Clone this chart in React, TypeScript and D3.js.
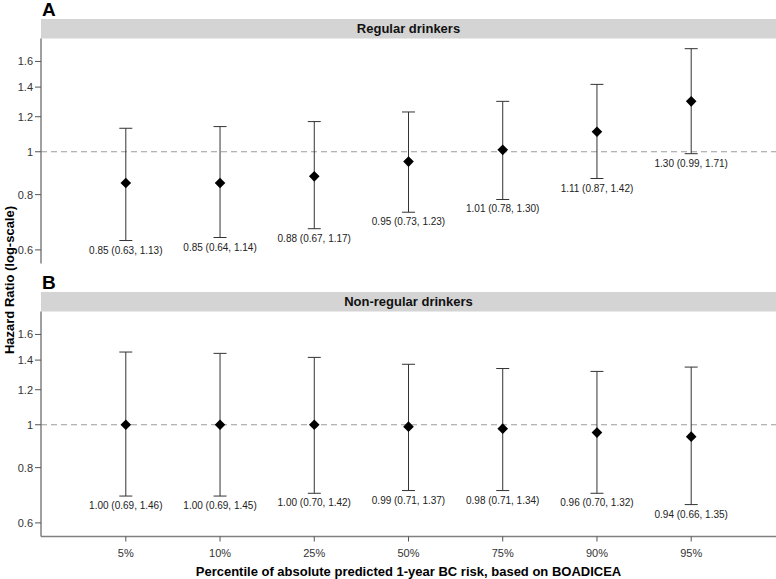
import React from 'react';
import * as d3 from 'd3';

// percentile categories (x axis)
const percentiles = ['5%', '10%', '25%', '50%', '75%', '90%', '95%'];

// panel A: regular drinkers
const regularHR = [0.85, 0.85, 0.88, 0.95, 1.01, 1.11, 1.30];
const regularLo = [0.63, 0.64, 0.67, 0.73, 0.78, 0.87, 0.99];
const regularHi = [1.13, 1.14, 1.17, 1.23, 1.30, 1.42, 1.71];

// panel B: non-regular drinkers
const nonRegularHR = [1.00, 1.00, 1.00, 0.99, 0.98, 0.96, 0.94];
const nonRegularLo = [0.69, 0.69, 0.70, 0.71, 0.71, 0.70, 0.66];
const nonRegularHi = [1.46, 1.45, 1.42, 1.37, 1.34, 1.32, 1.35];

const yTicks = [0.6, 0.8, 1, 1.2, 1.4, 1.6];

const panels = [
  { tag: 'A', title: 'Regular drinkers', hr: regularHR, lo: regularLo, hi: regularHi },
  { tag: 'B', title: 'Non-regular drinkers', hr: nonRegularHR, lo: nonRegularLo, hi: nonRegularHi },
];

const W = 776;
const H = 579;
const FONT = '"Liberation Sans", Arial, Helvetica, sans-serif';

const plotLeft = 41;
const plotRight = 776;
// top of the strip for each panel
const panelTops = [19, 292];
const stripH = 19.5;
const plotH = 225;

const fmt = (v: number) => v.toFixed(2);

function Panel({ p, top, showX }: any) {
  const y0 = top + stripH;
  const x = d3.scaleLinear().domain([-0.9, 6.9]).range([plotLeft, plotRight]);
  const y = d3.scaleLog().domain([0.559, 1.803]).range([y0 + plotH, y0]);
  const diamond = d3.symbol().type(d3.symbolDiamond2).size(72)();

  return (
    <g>
      <text x={plotLeft + 1} y={top - 3} fontSize={19} fontWeight="bold" fill="#000">{p.tag}</text>
      <rect x={plotLeft} y={top} width={plotRight - plotLeft} height={stripH} fill="#d4d4d4" />
      <text x={(plotLeft + plotRight) / 2} y={top + stripH / 2 + 4.5} textAnchor="middle"
        fontSize={13} fontWeight="bold" fill="#111">{p.title}</text>

      {/* reference line at HR = 1 */}
      <line x1={plotLeft} x2={plotRight} y1={y(1)} y2={y(1)} stroke="#9a9a9a" strokeWidth={1}
        strokeDasharray="6,4" />

      {/* y axis */}
      <line x1={plotLeft} x2={plotLeft} y1={y0} y2={y0 + plotH} stroke="#808080" strokeWidth={1.5} />
      {yTicks.map(t => (
        <g key={t}>
          <line x1={plotLeft - 6} x2={plotLeft} y1={y(t)} y2={y(t)} stroke="#555" />
          <text x={plotLeft - 8} y={y(t) + 4} textAnchor="end" fontSize={11} fill="#333">{d3.format('~g')(t)}</text>
        </g>
      ))}

      {/* error bars and point estimates */}
      {p.hr.map((v: number, i: number) => {
        const cx = x(i);
        return (
          <g key={i}>
            <line x1={cx} x2={cx} y1={y(p.hi[i])} y2={y(p.lo[i])} stroke="#333" strokeWidth={1} />
            <line x1={cx - 6.5} x2={cx + 6.5} y1={y(p.hi[i])} y2={y(p.hi[i])} stroke="#333" />
            <line x1={cx - 6.5} x2={cx + 6.5} y1={y(p.lo[i])} y2={y(p.lo[i])} stroke="#333" />
            <path d={diamond as string} transform={`translate(${cx},${y(v)})`} fill="#000" />
            <text x={cx} y={y(p.lo[i]) + 13} textAnchor="middle" fontSize={10} fill="#222">
              {`${fmt(v)} (${fmt(p.lo[i])}, ${fmt(p.hi[i])})`}
            </text>
          </g>
        );
      })}

      {showX && (
        <g>
          <line x1={plotLeft} x2={plotRight} y1={y0 + plotH} y2={y0 + plotH} stroke="#808080" strokeWidth={1.5} />
          {percentiles.map((c, i) => (
            <g key={c}>
              <line x1={x(i)} x2={x(i)} y1={y0 + plotH} y2={y0 + plotH + 5} stroke="#555" />
              <text x={x(i)} y={y0 + plotH + 20} textAnchor="middle" fontSize={11} fill="#333">{c}</text>
            </g>
          ))}
        </g>
      )}
    </g>
  );
}

export default function App() {
  return (
    <svg width={W} height={H} style={{ position: 'absolute', left: 0, top: 0, background: '#fff' }}
      fontFamily={FONT}>
      {panels.map((p, k) => (
        <Panel key={p.tag} p={p} top={panelTops[k]} showX={k === 1} />
      ))}
      <text transform="translate(14,280) rotate(-90)" textAnchor="middle" fontSize={13}
        fontWeight="bold" fill="#000">Hazard Ratio (log-scale)</text>
      <text x={(plotLeft + plotRight) / 2} y={576} textAnchor="middle" fontSize={13}
        fontWeight="bold" fill="#000">Percentile of absolute predicted 1-year BC risk, based on BOADICEA</text>
    </svg>
  );
}
